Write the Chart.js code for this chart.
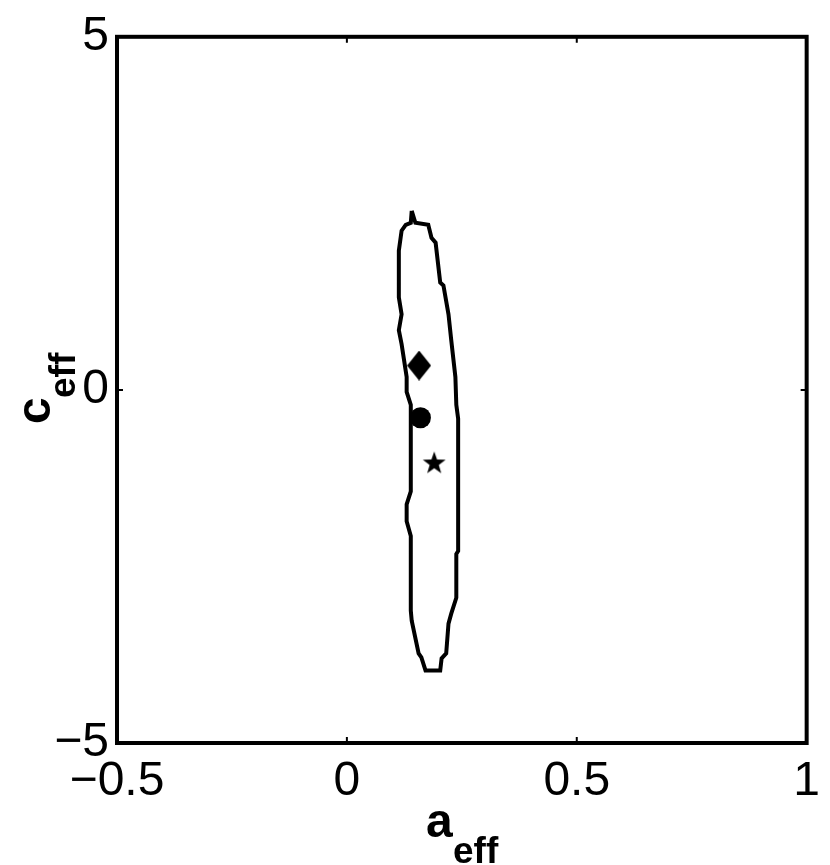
<!DOCTYPE html>
<html>
<head>
<meta charset="utf-8">
<script src="https://cdn.jsdelivr.net/npm/chart.js@4/dist/chart.umd.min.js"></script>
<style>
  body { margin: 0; background: #fff; }
  canvas { display: block; }
</style>
</head>
<body>
<canvas id="plot" width="830" height="865"></canvas>
<script>
// contour outline (a_eff, c_eff), traced clockwise from the top
const contourA = [0.141, 0.149, 0.177, 0.184, 0.193, 0.203, 0.210, 0.221, 0.227, 0.236, 0.238, 0.242,
  0.242, 0.238, 0.238, 0.227, 0.221, 0.216, 0.206, 0.203, 0.171, 0.162, 0.156, 0.141, 0.139, 0.139,
  0.130, 0.130, 0.139, 0.139, 0.130, 0.130, 0.119, 0.113, 0.119, 0.113, 0.113, 0.119, 0.128, 0.139, 0.141];
const contourC = [2.535, 2.366, 2.338, 2.155, 2.085, 1.521, 1.479, 1.070, 0.704, 0.183, -0.211, -0.408,
  -2.282, -2.324, -2.944, -3.169, -3.310, -3.732, -3.803, -3.972, -3.972, -3.789, -3.732, -3.268, -3.127, -2.070,
  -1.859, -1.620, -1.437, -0.211, -0.028, 0.183, 0.648, 0.845, 1.070, 1.310, 1.972, 2.254, 2.338, 2.366, 2.535];

// markers: diamond, circle, star
const markerA = [0.157, 0.160, 0.190];
const markerC = [0.345, -0.394, -1.028];

const xTicks = [-0.5, 0, 0.5, 1];
const yTicks = [-5, 0, 5];

function fmt(v) {
  return v < 0 ? '\u2212' + Math.abs(v) : String(v);
}

function diamondImg() {
  const c = document.createElement('canvas');
  c.width = 24; c.height = 30;
  const g = c.getContext('2d');
  g.fillStyle = '#000';
  g.beginPath();
  g.moveTo(12, 0); g.lineTo(24, 15); g.lineTo(12, 30); g.lineTo(0, 15);
  g.closePath(); g.fill();
  return c;
}

function starImg() {
  const c = document.createElement('canvas');
  c.width = 24; c.height = 24;
  const g = c.getContext('2d');
  g.fillStyle = '#000';
  g.beginPath();
  for (let i = 0; i < 10; i++) {
    let r = i % 2 === 0 ? 12 : 4.8;
    let a = -Math.PI / 2 + i * Math.PI / 5;
    let px = 12 + r * Math.cos(a), py = 13 + r * Math.sin(a);
    if (i === 0) g.moveTo(px, py); else g.lineTo(px, py);
  }
  g.closePath(); g.fill();
  return c;
}

const contour = contourA.map((a, i) => ({ x: a, y: contourC[i] }));
const pt = i => [{ x: markerA[i], y: markerC[i] }];

const framePlugin = {
  id: 'frame',
  afterDraw(chart) {
    const ctx = chart.ctx;
    const area = chart.chartArea;
    const xs = chart.scales.x, ys = chart.scales.y;
    ctx.save();
    ctx.strokeStyle = '#000';
    ctx.lineJoin = 'miter';
    ctx.lineWidth = 2;
    ctx.beginPath();
    xTicks.forEach(v => {
      const px = xs.getPixelForValue(v);
      ctx.moveTo(px, area.bottom); ctx.lineTo(px, area.bottom - 6);
      ctx.moveTo(px, area.top); ctx.lineTo(px, area.top + 6);
    });
    yTicks.forEach(v => {
      const py = ys.getPixelForValue(v);
      ctx.moveTo(area.left, py); ctx.lineTo(area.left + 6, py);
      ctx.moveTo(area.right, py); ctx.lineTo(area.right - 6, py);
    });
    ctx.stroke();
    ctx.lineWidth = 4;
    ctx.strokeRect(area.left, area.top, area.right - area.left, area.bottom - area.top);

    // axis titles with subscripts
    ctx.fillStyle = '#000';
    ctx.textBaseline = 'alphabetic';
    ctx.textAlign = 'left';
    ctx.font = 'bold 48px "Liberation Sans", Arial, sans-serif';
    ctx.fillText('a', 426, 837);
    ctx.font = 'bold 37px "Liberation Sans", Arial, sans-serif';
    ctx.fillText('eff', 453, 863);

    ctx.translate(50, 424);
    ctx.rotate(-Math.PI / 2);
    ctx.font = 'bold 48px "Liberation Sans", Arial, sans-serif';
    ctx.fillText('c', 0, 0);
    ctx.font = 'bold 37px "Liberation Sans", Arial, sans-serif';
    ctx.fillText('eff', 26, 25);
    ctx.restore();
  }
};

const tickFont = { family: '"Liberation Sans", Arial, sans-serif', size: 48 };

new Chart(document.getElementById('plot').getContext('2d'), {
  type: 'scatter',
  data: {
    datasets: [
      { data: contour, showLine: true, borderColor: '#000', borderWidth: 4, pointRadius: 0, fill: false, tension: 0 },
      { data: pt(0), pointStyle: diamondImg(), pointRadius: 12 },
      { data: pt(1), pointStyle: 'circle', pointRadius: 10.5, backgroundColor: '#000', borderWidth: 0 },
      { data: pt(2), pointStyle: starImg(), pointRadius: 12 }
    ]
  },
  options: {
    responsive: false,
    animation: false,
    events: [],
    layout: { padding: { top: 33, right: 20, left: 0, bottom: 0 } },
    plugins: { legend: { display: false }, tooltip: { enabled: false } },
    scales: {
      x: {
        type: 'linear', min: -0.5, max: 1,
        afterFit: s => { s.height = 122; },
        afterBuildTicks: s => { s.ticks = xTicks.map(v => ({ value: v })); },
        grid: { display: false, drawTicks: false },
        border: { display: false },
        ticks: { font: tickFont, color: '#000', padding: 10, maxRotation: 0, callback: v => fmt(v) }
      },
      y: {
        type: 'linear', min: -5, max: 5,
        afterFit: s => { s.width = 117; },
        afterBuildTicks: s => { s.ticks = yTicks.map(v => ({ value: v })); },
        grid: { display: false, drawTicks: false },
        border: { display: false },
        ticks: { font: tickFont, color: '#000', padding: 8, callback: v => fmt(v) }
      }
    }
  },
  plugins: [framePlugin]
});
</script>
</body>
</html>
